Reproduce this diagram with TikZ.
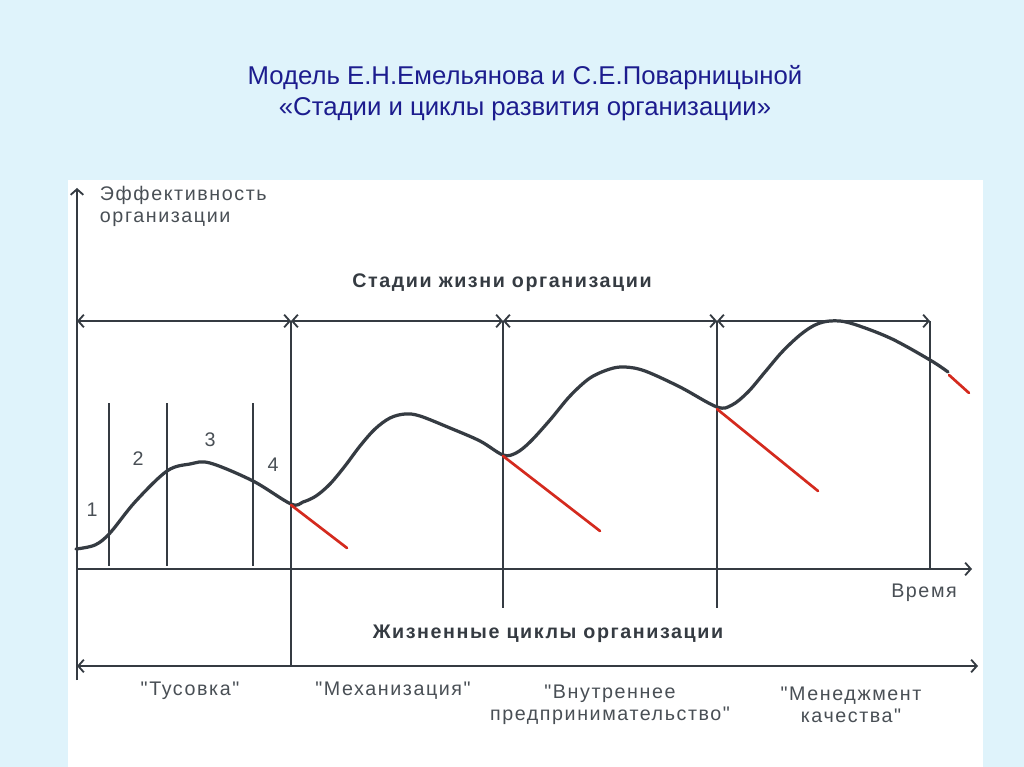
\documentclass[tikz,border=0pt]{standalone}
\usepackage{fontspec}
\setmainfont{Liberation Sans}
\newfontfamily\chartfont[LetterSpace=8]{Liberation Sans}
\usetikzlibrary{arrows.meta}
\definecolor{bgblue}{HTML}{DFF3FB}
\definecolor{titleblue}{HTML}{1C1C8E}
\definecolor{ink}{HTML}{353B42}
\definecolor{fallred}{HTML}{D42A1E}
\newcommand\qt{\symbol{34}}
\begin{document}
\begin{tikzpicture}[x=0.025cm,y=-0.025cm,
  axis/.style={line width=1.3pt,draw=ink,-{Straight Barb[length=4pt,width=9pt]}},
  span/.style={line width=1.3pt,draw=ink,{Straight Barb[length=4pt,width=9pt]}-{Straight Barb[length=4pt,width=9pt]}},
  bound/.style={line width=1pt,draw=ink},
  wave/.style={line width=2.3pt,draw=ink,line cap=round,line join=round},
  fall/.style={line width=1.9pt,draw=fallred,line cap=round},
  lbl/.style={text=ink!90,align=center,font=\chartfont\fontsize{14}{15.5}\selectfont},
  head/.style={text=ink,font=\chartfont\bfseries\fontsize{14}{15}\selectfont}]
% background and panel
\fill[bgblue] (0,0) rectangle (1024,767);
\fill[white] (68,180) rectangle (983,767);
\node[text=titleblue,font=\fontsize{18.3}{22}\selectfont,align=center] (title) at (525,93)
  {Модель Е.Н.Емельянова и С.Е.Поварницыной\\«Стадии и циклы развития организации»};
% axes
\draw[axis] (77,680) -- (77,188);
\draw[axis] (77,569) -- (972,569);
\node[lbl,anchor=north west,align=left] (eff) at (95,181) {Эффективность\\организации};
\node[lbl] (time) at (924,593) {Время};
% stages of life
\node[head] (stages) at (502,283) {Стадии жизни организации};
\foreach \a/\b in {77/291,291/503,503/717,717/930}
  \draw[span] (\a,321) -- (\b,321);
\draw[bound] (291,321) -- (291,666);
\draw[bound] (503,321) -- (503,608);
\draw[bound] (717,321) -- (717,608);
\draw[bound] (930,321) -- (930,569);
\foreach \x in {109,167,253}
  \draw[bound] (\x,403) -- (\x,566);
\foreach \n/\x/\y in {1/92/510,2/138/459,3/210/440,4/273/465}
  \node[lbl] (ph\n) at (\x,\y) {\n};
% efficiency curve
\draw[wave] plot[smooth,tension=0.55] coordinates {(76,549) (95,545) (110,533) (135,502) (167,471)
  (190,464) (210,463) (253,481) (291,504) (303,502) (316,496) (330,484) (345,466) (360,446)
  (375,429) (390,418) (405,414) (420,416) (450,428) (480,441) (503,455) (516,453) (530,442)
  (550,420) (570,396) (590,378) (610,369) (625,367) (645,371) (680,387) (717,407) (732,405)
  (748,392) (765,372) (782,352) (800,335) (815,325) (830,321) (850,323) (890,338) (930,360)
  (948,372)};
\draw[fall] (291,505) -- (347,548);
\draw[fall] (503,456) -- (600,531);
\draw[fall] (717,409) -- (818,491);
\draw[fall] (949,375) -- (969,393);
% life cycles
\node[head] (cycles) at (548,634) {Жизненные циклы организации};
\draw[span] (77,666) -- (978,666);
\node[lbl] (c1) at (190,691) {\qt Тусовка\qt};
\node[lbl] (c2) at (393,691) {\qt Механизация\qt};
\node[lbl] (c3) at (610,705) {\qt Внутреннее\\предпринимательство\qt};
\node[lbl] (c4) at (851,705) {\qt Менеджмент\\качества\qt};
\end{tikzpicture}
\end{document}
